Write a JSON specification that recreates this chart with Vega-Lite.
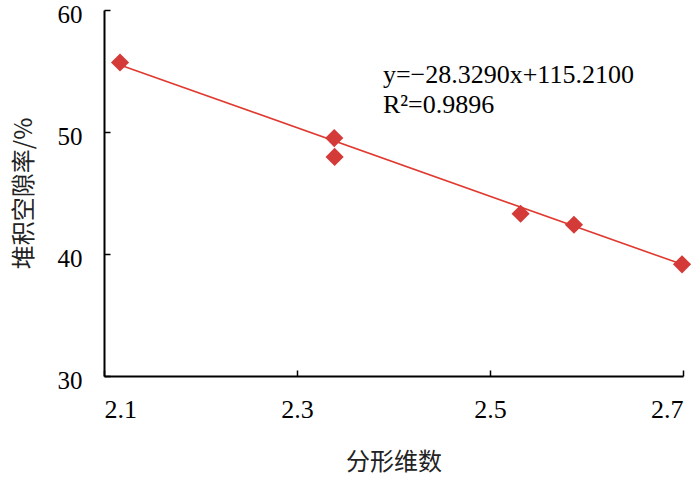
{
  "$schema": "https://vega.github.io/schema/vega-lite/v6.json",
  "width": 579,
  "height": 366,
  "autosize": {"type": "none"},
  "padding": {"left": 104, "top": 10, "right": 17, "bottom": 101},
  "background": "white",
  "config": {
    "view": {"stroke": null}
  },
  "datasets": {
    "pts": [
      {"d": 2.1166, "v": 55.7},
      {"d": 2.3386, "v": 49.5},
      {"d": 2.339, "v": 47.96},
      {"d": 2.5317, "v": 43.3},
      {"d": 2.587, "v": 42.4},
      {"d": 2.699, "v": 39.15}
    ],
    "fit": [
      {"d": 2.1166, "v": 55.5},
      {"d": 2.699, "v": 39.15}
    ],
    "eq": [
      {"d": 2.389, "v": 54.65, "t": "y=−28.3290x+115.2100"},
      {"d": 2.389, "v": 52.2, "t": "R²=0.9896"}
    ]
  },
  "layer": [
    {
      "data": {"name": "fit"},
      "mark": {"type": "line", "color": "#e0392f", "strokeWidth": 1.6},
      "encoding": {
        "x": {
          "field": "d", "type": "quantitative",
          "scale": {"domain": [2.1, 2.7], "nice": false, "zero": false},
          "axis": {
            "values": [2.1, 2.3, 2.5, 2.7],
            "format": ".1f",
            "domainColor": "black",
            "domainWidth": 2,
            "tickColor": "black",
            "tickWidth": 1.5,
            "tickSize": -6,
            "grid": false,
            "labelFont": "Liberation Serif",
            "labelFontSize": 26,
            "labelColor": "black",
            "labelPadding": 26,
            "title": "分形维数",
            "titleFont": "Noto Sans CJK SC",
            "titleFontSize": 24,
            "titleFontWeight": "normal",
            "titleColor": "#222222",
            "titlePadding": 28
          }
        },
        "y": {
          "field": "v", "type": "quantitative",
          "scale": {"domain": [30, 60], "nice": false, "zero": false},
          "axis": {
            "values": [30, 40, 50, 60],
            "domainColor": "black",
            "domainWidth": 2,
            "tickColor": "black",
            "tickWidth": 1.5,
            "tickSize": -6,
            "grid": false,
            "labelFont": "Liberation Serif",
            "labelFontSize": 25,
            "labelColor": "black",
            "labelPadding": 28,
            "labelOffset": 4,
            "title": "堆积空隙率/%",
            "titleFont": "Noto Sans CJK SC",
            "titleFontSize": 24,
            "titleFontWeight": "normal",
            "titleColor": "#222222",
            "titlePadding": 21
          }
        }
      }
    },
    {
      "data": {"name": "pts"},
      "mark": {"type": "point", "shape": "diamond", "filled": true, "color": "#d43a37", "opacity": 1, "size": 330},
      "encoding": {
        "x": {"field": "d", "type": "quantitative"},
        "y": {"field": "v", "type": "quantitative"}
      }
    },
    {
      "data": {"name": "eq"},
      "mark": {"type": "text", "align": "left", "baseline": "middle", "font": "Liberation Serif", "fontSize": 26, "color": "black"},
      "encoding": {
        "x": {"field": "d", "type": "quantitative"},
        "y": {"field": "v", "type": "quantitative"},
        "text": {"field": "t"}
      }
    }
  ]
}
